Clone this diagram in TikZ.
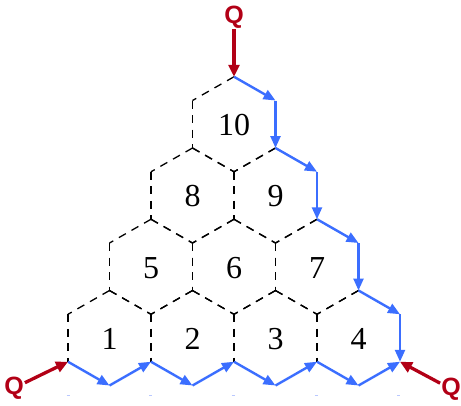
\documentclass[tikz,border=0pt]{standalone}
\usepackage{fontspec}
\setmainfont{Liberation Serif}
\newfontfamily\qfont{Liberation Sans}
\usetikzlibrary{arrows.meta}
\definecolor{flowblue}{RGB}{59,110,255}
\definecolor{qred}{RGB}{178,0,22}
\definecolor{ghostblue}{RGB}{185,200,255}
\tikzset{
  hexedge/.style={black, line width=1.3pt, dash pattern=on 8pt off 6.5pt},
  flow/.style={flowblue, line width=2.4pt, -{Triangle[length=12pt,width=10pt]}},
  qarrow/.style={qred, line width=3.3pt, -{Triangle[length=12pt,width=11pt]}},
  qlabel/.style={text=qred, inner sep=1pt, font=\qfont\bfseries\fontsize{25}{25}\selectfont},
  numlabel/.style={inner sep=0pt, font=\fontsize{32}{32}\selectfont},
  ghost/.style={ghostblue, line width=1pt}
}
\begin{document}
\begin{tikzpicture}[x=1pt,y=-1pt]
\useasboundingbox (0,0) rectangle (461,405);
% hexagon centres and vertices
\foreach \n/\cx/\cy in {1/109.5/338, 2/192.5/338, 3/275.5/338, 4/358.5/338,
                        5/151/266.75, 6/234/266.75, 7/317/266.75,
                        8/192.5/195.5, 9/275.5/195.5,
                        10/234/124.25} {
  \coordinate (h\n) at (\cx,\cy);
  \coordinate (h\n-T)  at (\cx,{\cy-47.5});
  \coordinate (h\n-UR) at ({\cx+41.5},{\cy-23.75});
  \coordinate (h\n-LR) at ({\cx+41.5},{\cy+23.75});
  \coordinate (h\n-B)  at (\cx,{\cy+47.5});
  \coordinate (h\n-LL) at ({\cx-41.5},{\cy+23.75});
  \coordinate (h\n-UL) at ({\cx-41.5},{\cy-23.75});
  \node[numlabel] (lab\n) at (\cx,{\cy+1}) {\n};
}
% dashed hexagon edges (always drawn from upper vertex to lower vertex)
\foreach \n in {1,2,3} {
  \draw[hexedge] (h\n-T) -- (h\n-UR);
  \draw[hexedge] (h\n-UR) -- (h\n-LR);
  \draw[hexedge] (h\n-UL) -- (h\n-LL);
  \draw[hexedge] (h\n-T) -- (h\n-UL);
}
\foreach \n in {4,7,9,10} {
  \draw[hexedge] (h\n-UL) -- (h\n-LL);
  \draw[hexedge] (h\n-T) -- (h\n-UL);
}
\foreach \n in {7,9,10} {
  \draw[hexedge] (h\n-LL) -- (h\n-B);
  \draw[hexedge] (h\n-LR) -- (h\n-B);
}
\foreach \n in {5,6,8} {
  \draw[hexedge] (h\n-T) -- (h\n-UR);
  \draw[hexedge] (h\n-UR) -- (h\n-LR);
  \draw[hexedge] (h\n-LR) -- (h\n-B);
  \draw[hexedge] (h\n-LL) -- (h\n-B);
  \draw[hexedge] (h\n-UL) -- (h\n-LL);
  \draw[hexedge] (h\n-T) -- (h\n-UL);
}
% blue flow along the right side
\foreach \n in {10,9,7,4} {
  \draw[flow] (h\n-T) -- (h\n-UR);
  \draw[flow] (h\n-UR) -- (h\n-LR);
}
% blue flow along the bottom
\foreach \n in {1,2,3,4} {
  \draw[flow] (h\n-LL) -- (h\n-B);
  \draw[flow] (h\n-B) -- (h\n-LR);
}
% Q inputs
\node[qlabel] (qt) at (234,17) {Q};
\node[qlabel] (ql) at (14,388) {Q};
\node[qlabel] (qr) at (451,389) {Q};
\draw[qarrow] (qt) -- (h10-T);
\draw[qarrow] (ql) -- (h1-LL);
\draw[qarrow] (qr) -- (h4-LR);
% faint marks below the bottom row
\foreach \x in {68,150.5,233,316,398.5} {
  \draw[ghost] ({\x-1.5},395.5) -- ({\x+1.5},395.5);
}
\end{tikzpicture}
\end{document}
